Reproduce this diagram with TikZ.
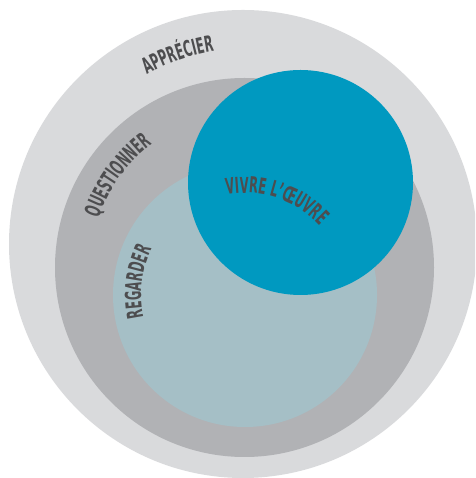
\documentclass[tikz,border=0pt]{standalone}
\usepackage{fontspec}
\newfontfamily\cond[FakeStretch=0.58]{DejaVu Sans Condensed}
\usetikzlibrary{decorations.text}
\definecolor{ringA}{HTML}{D9DADC}
\definecolor{ringB}{HTML}{B1B2B5}
\definecolor{ringC}{HTML}{A5BFC6}
\definecolor{ringD}{HTML}{0099C0}
\definecolor{txt}{HTML}{4D4D4F}
\tikzset{
  curvedlabel/.style={decorate, decoration={text along path, text align=center, text color=txt,
    text={|\cond\bfseries\fontsize{22}{22}\selectfont|#1}}}
}
\begin{document}
\begin{tikzpicture}[x=1pt,y=1pt]
\useasboundingbox (0,0) rectangle (475,478);
\begin{scope}
  \clip (0,0) rectangle (475,478);
  \fill[ringA] (243,234) circle[radius=234];
\end{scope}
\fill[ringB] (244.5,210.5) circle[radius=189.5];
\fill[ringC] (245,183) circle[radius=132];
\fill[ringD] (300.5,295.5) circle[radius=112.5];
\path[curvedlabel=APPRÉCIER] (243,234) ++(139:195) arc[start angle=139,end angle=79,radius=195];
\path[curvedlabel=QUESTIONNER] (244.5,210.5) ++(176:154) arc[start angle=176,end angle=112,radius=154];
\path[curvedlabel=REGARDER] (245,183) ++(200:104) arc[start angle=200,end angle=146,radius=104];
\path[curvedlabel=VIVRE L’ŒUVRE] (245,183) ++(111.5:102) arc[start angle=111.5,end angle=31.5,radius=102];
\end{tikzpicture}
\end{document}
